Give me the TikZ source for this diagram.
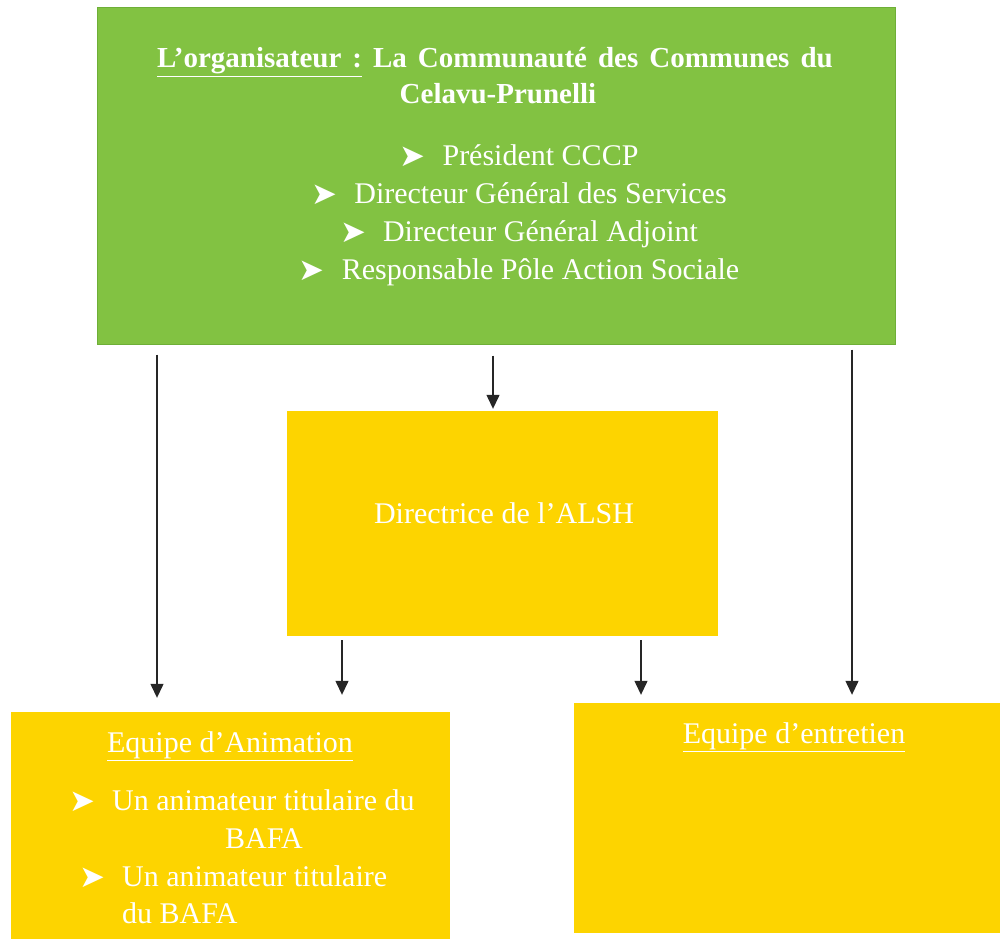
\documentclass[tikz,border=0pt]{standalone}
\usepackage{fontspec}
\setmainfont{Liberation Serif}
\newfontfamily\dvfont{DejaVu Sans}
\usetikzlibrary{arrows.meta}
\definecolor{orggreen}{RGB}{130,194,66}
\definecolor{orgedge}{RGB}{110,175,55}
\definecolor{boxyellow}{RGB}{253,212,0}
\newcommand\bulx{\makebox[43pt][l]{\raisebox{-1pt}{\dvfont\fontsize{31}{31}\selectfont ➤}}}
\begin{document}
\begin{tikzpicture}[x=1pt,y=-1pt,
  box/.style={rectangle, inner sep=0pt, minimum width=#1},
  gbox/.style={box=#1, fill=orggreen, draw=orgedge, line width=1pt},
  ybox/.style={box=#1, fill=boxyellow},
  txt/.style={anchor=base, text=white, inner sep=0pt, font=\fontsize{30}{34}\selectfont},
  ttl/.style={txt, font=\fontsize{29}{34}\selectfont\bfseries},
  arr/.style={-{Triangle[width=13pt,length=14pt]}, line width=1.3pt, draw=black!85}]
\useasboundingbox (0,0) rectangle (1000,939);
% boxes
\node[gbox=798pt, minimum height=336pt] (org) at (496,176) {};
\node[ybox=431pt, minimum height=225pt] (dir) at (502.5,523.5) {};
\node[ybox=439pt, minimum height=227pt] (anim) at (230.5,825.5) {};
\node[ybox=426pt, minimum height=230pt] (ent) at (787,818) {};
% texts in org
\node[ttl] (t1) at (495,68) {\spaceskip=11pt\underline{L’organisateur :} La Communauté des Communes du};
\node[ttl] (t2) at (498,104) {Celavu-Prunelli};
\node[txt] (b1) at (519,165) {\bulx Président CCCP};
\node[txt] (b2) at (519,203) {\bulx Directeur Général des Services};
\node[txt] (b3) at (519,241) {\bulx Directeur Général Adjoint};
\node[txt] (b4) at (519,279) {\bulx Responsable Pôle Action Sociale};
% dir text
\node[txt] (d1) at (504,523) {Directrice de l’ALSH};
% anim texts
\node[txt] (a0) at (230,752) {\underline{Equipe d’Animation}};
\node[txt, anchor=base west] (a1) at (69,810) {\bulx Un animateur titulaire du};
\node[txt] (a2) at (264,848) {BAFA};
\node[txt, anchor=base west] (a3) at (79,886) {\bulx Un animateur titulaire};
\node[txt, anchor=base west] (a4) at (122,923) {du BAFA};
% ent text
\node[txt] (e0) at (794,743) {\underline{Equipe d’entretien}};
% connector x positions
\coordinate (xa) at (157,0);
\coordinate (xb) at (493,0);
\coordinate (xc) at (342,0);
\coordinate (xd) at (641,0);
\coordinate (xe) at (852,0);
\draw[arr, shorten <=10pt, shorten >=14pt] (org.south -| xa) -- (anim.north -| xa);
\draw[arr, shorten <=11pt, shorten >=2pt] (org.south -| xb) -- (dir.north -| xb);
\draw[arr, shorten <=4pt, shorten >=17pt] (dir.south -| xc) -- (anim.north -| xc);
\draw[arr, shorten <=4pt, shorten >=8pt] (dir.south -| xd) -- (ent.north -| xd);
\draw[arr, shorten <=5pt, shorten >=8pt] (org.south -| xe) -- (ent.north -| xe);
\end{tikzpicture}
\end{document}
